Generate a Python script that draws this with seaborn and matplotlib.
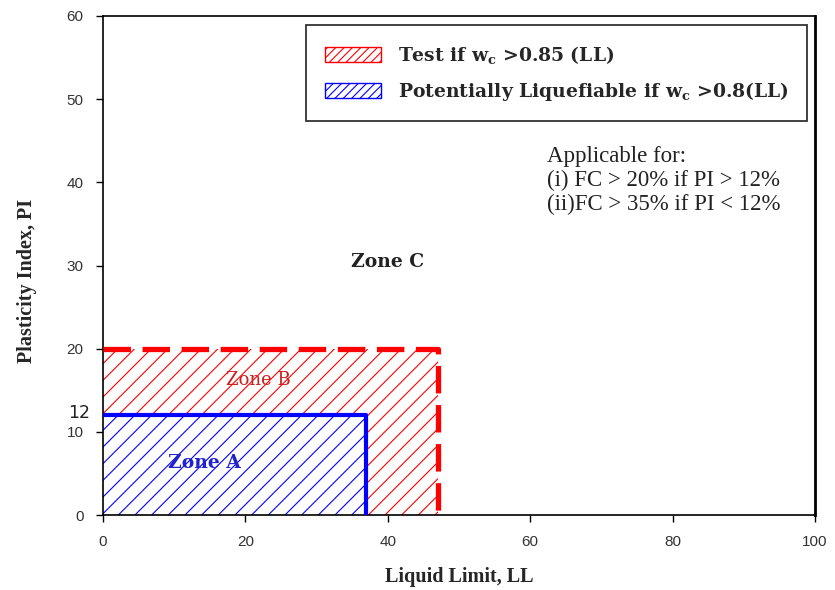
import matplotlib
matplotlib.use("Agg")
import matplotlib.pyplot as plt
import seaborn as sns
import pandas as pd
from matplotlib.patches import Patch

# ---- data ----
zone_names = ["Zone A", "Zone B"]
zone_ll = [37, 47]          # liquid limit bound
zone_pi = [12, 20]          # plasticity index bound
zone_colors = ["blue", "red"]
legend_labels = ["Test if w$_\\mathbf{c}$ >0.85 (LL)",
                 "Potentially Liquefiable if w$_\\mathbf{c}$ >0.8(LL)"]
x_ticks = [0, 20, 40, 60, 80, 100]
y_ticks = [0, 10, 20, 30, 40, 50, 60]
extra_y_tick = 12
note_lines = ["Applicable for:", "(i) FC > 20% if PI > 12%", "(ii)FC > 35% if PI < 12%"]

sns.set_theme(style="ticks")
plt.rcParams["hatch.linewidth"] = 0.8
plt.rcParams["mathtext.fontset"] = "dejavuserif"
serif = ["Liberation Serif", "DejaVu Serif"]
dserif = ["DejaVu Serif"]
sans = ["Liberation Sans", "DejaVu Sans"]

fig = plt.figure(figsize=(8.35, 5.9), dpi=100)
ax = fig.add_axes([0.1234, 0.127, 0.8527, 0.846])

# Zone B (red hatch)
ax.fill_between([0, zone_ll[1]], 0, zone_pi[1], facecolor="white",
                edgecolor="red", hatch="//", linewidth=0, zorder=1)
# Zone A (blue hatch over white)
ax.fill_between([0, zone_ll[0]], 0, zone_pi[0], facecolor="white",
                edgecolor="blue", hatch="//", linewidth=0, zorder=2)

# borders
dfB = pd.DataFrame({"LL": [0, zone_ll[1], zone_ll[1]], "PI": [zone_pi[1], zone_pi[1], 0]})
dfA = pd.DataFrame({"LL": [0, zone_ll[0], zone_ll[0]], "PI": [zone_pi[0], zone_pi[0], 0]})
sns.lineplot(data=dfB, x="LL", y="PI", sort=False, color="red", lw=3.8,
             ax=ax, zorder=3, estimator=None)
ax.lines[-1].set_dashes([5.2, 2.2])
sns.lineplot(data=dfA, x="LL", y="PI", sort=False, color="blue", lw=3,
             ax=ax, zorder=4, estimator=None)

ax.set_xlim(0, 100)
ax.set_ylim(0, 60)
ax.set_xticks(x_ticks)
ax.set_yticks(y_ticks)
ax.tick_params(direction="out", length=5, width=1, colors="black", labelsize=11, pad=9)
for lab in ax.get_xticklabels() + ax.get_yticklabels():
    lab.set_family(sans)
    lab.set_color("#333333")
for s in ax.spines.values():
    s.set_visible(True)
    s.set_color("black")
    s.set_linewidth(1.2)
ax.spines["right"].set_linewidth(2)
ax.grid(False)

ax.set_xlabel("Liquid Limit, LL", family=serif, fontweight="bold", fontsize=14.5, labelpad=13)
ax.set_ylabel("Plasticity Index, PI", family=serif, fontweight="bold", fontsize=14.5)
ax.yaxis.set_label_coords(-0.093, 0.47)

# extra tick label 12
ax.text(-1.8, extra_y_tick + 0.3, str(extra_y_tick), ha="right", va="center",
        fontsize=12.5, family=["DejaVu Sans"], color="#222222")

# zone labels
ax.text(39.9, 30.4, "Zone C", ha="center", va="center", family=dserif,
        fontweight="bold", fontsize=13.5, color="#222222", zorder=5)
ax.text(21.8, 16.2, zone_names[1], ha="center", va="center", family=dserif,
        fontsize=13, color="#cc1f1f", zorder=5)
ax.text(14.3, 6.3, zone_names[0], ha="center", va="center", family=dserif,
        fontweight="bold", fontsize=13.5, color="#2222cc", zorder=5)

# note
ax.text(62.3, 44.4, "\n".join(note_lines), ha="left", va="top", family=serif,
        fontsize=16.5, color="#222222", linespacing=1.2)

# legend
handles = [Patch(facecolor="white", edgecolor=zone_colors[1], hatch="////", lw=1),
           Patch(facecolor="white", edgecolor=zone_colors[0], hatch="////", lw=1)]
leg = ax.legend(handles, legend_labels, loc="upper right",
                bbox_to_anchor=(0.989, 0.982), borderaxespad=0,
                frameon=True, fancybox=False,
                edgecolor="black", handlelength=3.0, handleheight=0.85,
                borderpad=1.0, labelspacing=0.75, handletextpad=0.9,
                prop={"family": dserif, "weight": "bold", "size": 13.5})
leg.get_frame().set_linewidth(1.3)
leg.set_zorder(10)

fig.savefig("out.png", dpi=100)
